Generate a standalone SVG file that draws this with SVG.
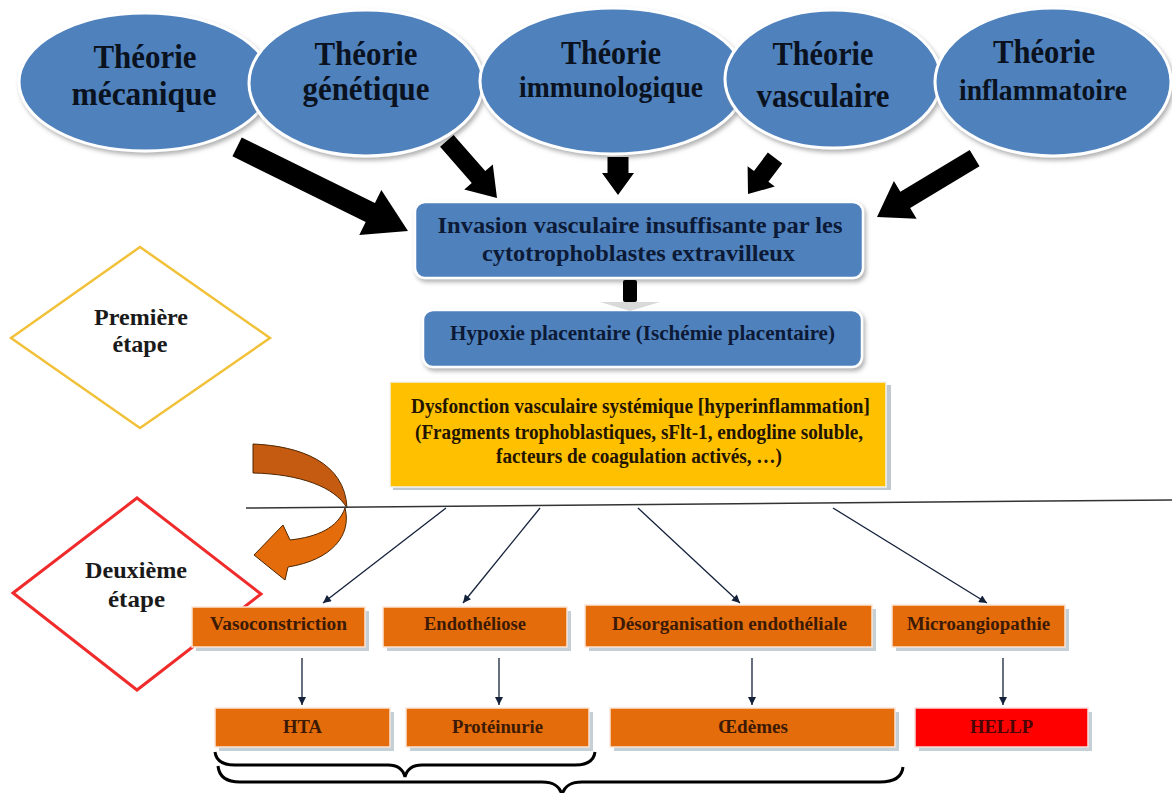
<svg xmlns="http://www.w3.org/2000/svg" width="1172" height="793" viewBox="0 0 1172 793">
<defs>
<filter id="sh" x="-10%" y="-10%" width="125%" height="135%">
<feDropShadow dx="2" dy="3" stdDeviation="2" flood-color="#808080" flood-opacity="0.6"/>
</filter>
<marker id="ah" viewBox="0 0 10 10" refX="10" refY="5" markerWidth="9" markerHeight="8" markerUnits="userSpaceOnUse" orient="auto">
<path d="M0,0 L10,5 L0,10 z" fill="#14213a"/>
</marker>
<style>
.ell{fill:#4f81bd;stroke:#ffffff;stroke-width:3;filter:url(#sh)}
.blue{fill:#4f81bd;stroke:#ffffff;stroke-width:2.5;filter:url(#sh)}
.t{font-family:"Liberation Serif","Times New Roman",serif;font-weight:bold;text-anchor:middle}
.et{font-size:33px;fill:#0a1220}
.bt{fill:#0c1a36}
.yt{font-size:20px;fill:#231400}
.dt{font-size:23px;fill:#1a1a1a}
.ot{font-size:18px;fill:#3c1a05}
.osh{fill:#c5cfd6}
.obox{fill:#e46c0a;stroke:#fbe5d6;stroke-width:1.5}
.big{fill:#000000}
.thin{stroke:#14213a;stroke-width:1.3;fill:none;marker-end:url(#ah)}
.brace{stroke:#000000;stroke-width:3;fill:none}
</style>
</defs>
<rect width="1172" height="793" fill="#ffffff"/>

<!-- Theory ellipses -->
<g id="theorie-mecanique">
<ellipse class="ell" cx="145" cy="82" rx="126" ry="69"/>
<text class="t et" x="145" y="68" textLength="103" lengthAdjust="spacingAndGlyphs">Théorie</text>
<text class="t et" x="144" y="105" textLength="145" lengthAdjust="spacingAndGlyphs">mécanique</text>
</g>
<g id="theorie-genetique">
<ellipse class="ell" cx="366" cy="83" rx="117" ry="73"/>
<text class="t et" x="366" y="65" textLength="103" lengthAdjust="spacingAndGlyphs">Théorie</text>
<text class="t et" x="366" y="100" textLength="127" lengthAdjust="spacingAndGlyphs">génétique</text>
</g>
<g id="theorie-immunologique">
<ellipse class="ell" cx="613" cy="81" rx="133" ry="73"/>
<text class="t et" x="611" y="64" textLength="100" lengthAdjust="spacingAndGlyphs">Théorie</text>
<text class="t et" x="611" y="97" style="font-size:29px" textLength="184" lengthAdjust="spacingAndGlyphs">immunologique</text>
</g>
<g id="theorie-vasculaire">
<ellipse class="ell" cx="833" cy="79" rx="108" ry="69"/>
<text class="t et" x="823" y="65" textLength="101" lengthAdjust="spacingAndGlyphs">Théorie</text>
<text class="t et" x="823" y="107" textLength="133" lengthAdjust="spacingAndGlyphs">vasculaire</text>
</g>
<g id="theorie-inflammatoire">
<ellipse class="ell" cx="1053" cy="82" rx="118" ry="74"/>
<text class="t et" x="1044" y="63" textLength="102" lengthAdjust="spacingAndGlyphs">Théorie</text>
<text class="t et" x="1043" y="100" style="font-size:29px" textLength="168" lengthAdjust="spacingAndGlyphs">inflammatoire</text>
</g>

<!-- Step diamonds -->
<g id="premiere-etape">
<polygon points="11,338 140,247 270,338 140,428" fill="#ffffff" stroke="#f2c13a" stroke-width="2.5"/>
<text class="t dt" x="141" y="325" textLength="94" lengthAdjust="spacingAndGlyphs">Première</text>
<text class="t dt" x="140" y="352" textLength="55" lengthAdjust="spacingAndGlyphs">étape</text>
</g>
<g id="deuxieme-etape">
<polygon points="13,593 137,498 261,594 137,690" fill="#ffffff" stroke="#f02b2b" stroke-width="3"/>
<text class="t dt" x="136" y="578" textLength="102" lengthAdjust="spacingAndGlyphs">Deuxième</text>
<text class="t dt" x="136.5" y="607" textLength="57" lengthAdjust="spacingAndGlyphs">étape</text>
</g>

<!-- Orange curved arrow -->
<g id="transition-arrow">
<path d="M253,444 C300,446 345,462 347,508 C335,487 300,474 253,473 Z" fill="#c55a11" stroke="#4d2600" stroke-width="1"/>
<path d="M345,508 C352,535 332,560 288,567 L285,580 L254,555 L283,525 L290,540 C317,537 338,528 345,508 Z" fill="#e46c0a" stroke="#4d2600" stroke-width="1"/>
</g>

<!-- Central nodes -->
<g id="invasion">
<rect class="blue" x="415" y="202" width="448" height="76" rx="10"/>
<text class="t bt" x="640" y="233" style="font-size:23px" textLength="405" lengthAdjust="spacingAndGlyphs">Invasion vasculaire insuffisante par les</text>
<text class="t bt" x="638.5" y="261" style="font-size:23px" textLength="313" lengthAdjust="spacingAndGlyphs">cytotrophoblastes extravilleux</text>
</g>
<g id="hypoxie">
<rect class="blue" x="423" y="310" width="439" height="57" rx="10"/>
<text class="t bt" x="642.5" y="340" style="font-size:21px" textLength="385" lengthAdjust="spacingAndGlyphs">Hypoxie placentaire (Ischémie placentaire)</text>
</g>
<g id="dysfonction">
<rect x="393" y="385" width="498" height="105" fill="#c0c8d0"/>
<rect x="390" y="382" width="496" height="105" fill="#ffc000" stroke="#f3f3f3" stroke-width="1.5"/>
<text class="t yt" x="640.5" y="413" textLength="459" lengthAdjust="spacingAndGlyphs">Dysfonction vasculaire systémique [hyperinflammation]</text>
<text class="t yt" x="639" y="439" textLength="448" lengthAdjust="spacingAndGlyphs">(Fragments trophoblastiques, sFlt-1, endogline soluble,</text>
<text class="t yt" x="639" y="463" textLength="286" lengthAdjust="spacingAndGlyphs">facteurs de coagulation activés, …)</text>
</g>

<!-- Mechanism boxes -->
<g id="vasoconstriction">
<rect class="osh" x="196" y="611" width="173" height="40"/>
<rect class="obox" x="192" y="607" width="173" height="40"/>
<text class="t ot" x="278.5" y="630" textLength="137" lengthAdjust="spacingAndGlyphs">Vasoconstriction</text>
</g>
<g id="endotheliose">
<rect class="osh" x="387" y="611" width="184" height="40"/>
<rect class="obox" x="383" y="607" width="184" height="40"/>
<text class="t ot" x="475" y="630" textLength="102" lengthAdjust="spacingAndGlyphs">Endothéliose</text>
</g>
<g id="desorganisation">
<rect class="osh" x="589" y="609" width="287" height="42"/>
<rect class="obox" x="585" y="605" width="287" height="42"/>
<text class="t ot" x="729.5" y="630" textLength="235" lengthAdjust="spacingAndGlyphs">Désorganisation endothéliale</text>
</g>
<g id="microangiopathie">
<rect class="osh" x="896" y="609" width="173" height="42"/>
<rect class="obox" x="892" y="605" width="173" height="42"/>
<text class="t ot" x="978.5" y="630" textLength="143" lengthAdjust="spacingAndGlyphs">Microangiopathie</text>
</g>

<!-- Outcome boxes -->
<g id="hta">
<rect class="osh" x="219" y="712" width="175" height="39"/>
<rect class="obox" x="215" y="708" width="175" height="39"/>
<text class="t ot" x="302.5" y="733" textLength="39" lengthAdjust="spacingAndGlyphs">HTA</text>
</g>
<g id="proteinurie">
<rect class="osh" x="410" y="712" width="183" height="39"/>
<rect class="obox" x="406" y="708" width="183" height="39"/>
<text class="t ot" x="497.5" y="733" textLength="91" lengthAdjust="spacingAndGlyphs">Protéinurie</text>
</g>
<g id="oedemes">
<rect class="osh" x="614" y="712" width="285" height="39"/>
<rect class="obox" x="610" y="708" width="285" height="39"/>
<text class="t ot" x="753" y="733" textLength="70" lengthAdjust="spacingAndGlyphs">Œdèmes</text>
</g>
<g id="hellp">
<rect class="osh" x="919" y="712" width="173" height="39"/>
<rect x="915" y="708" width="173" height="39" fill="#ff0000" stroke="#fbdcdc" stroke-width="1.5"/>
<text class="t ot" x="1001.5" y="733" style="fill:#4a0505" textLength="63" lengthAdjust="spacingAndGlyphs">HELLP</text>
</g>

<!-- Connectors -->
<g id="connectors">
<polygon class="big" transform="translate(408,231) rotate(26.2)" points="-190.5,-10.5 -42,-10.5 -42,-25 0,0 -42,25 -42,10.5 -190.5,10.5"/>
<polygon class="big" transform="translate(497,198) rotate(48.7)" points="-76,-9 -28,-9 -28,-19 0,0 -28,19 -28,9 -76,9"/>
<polygon class="big" transform="translate(618,195) rotate(90)" points="-38,-10.5 -22,-10.5 -22,-16 0,0 -22,16 -22,10.5 -38,10.5"/>
<polygon class="big" transform="translate(748,194) rotate(126.9)" points="-45,-9 -22,-9 -22,-17 0,0 -22,17 -22,9 -45,9"/>
<polygon class="big" transform="translate(877,217) rotate(148.9)" points="-114,-9.5 -33,-9.5 -33,-22 0,0 -33,22 -33,9.5 -114,9.5"/>
<rect x="623" y="280" width="14" height="22" rx="2" fill="#000000"/>
<polygon points="600,302 660,302 630,311" fill="#d9d9d9"/>
<line x1="246" y1="508" x2="1172" y2="500" stroke="#333333" stroke-width="1.5"/>
<path class="thin" d="M446,508 L323,603"/>
<path class="thin" d="M540,508 L463,603"/>
<path class="thin" d="M638,508 L740,603"/>
<path class="thin" d="M833,508 L987,603"/>
<path class="thin" d="M302,658 L302,705"/>
<path class="thin" d="M499,658 L499,705"/>
<path class="thin" d="M752,658 L752,705"/>
<path class="thin" d="M1003,658 L1003,705"/>
<path class="brace" d="M215,752 C216,760 222,765 235,765 L388,765 C398,765 403,769 405,777 C407,769 412,765 422,765 L575,765 C588,765 594,760 595,752"/>
<path class="brace" d="M218,766 C219,776 226,782 240,782 L542,782 C555,782 560,787 562,795 C564,787 569,782 582,782 L880,782 C895,782 902,776 903,767"/>
</g>
</svg>
